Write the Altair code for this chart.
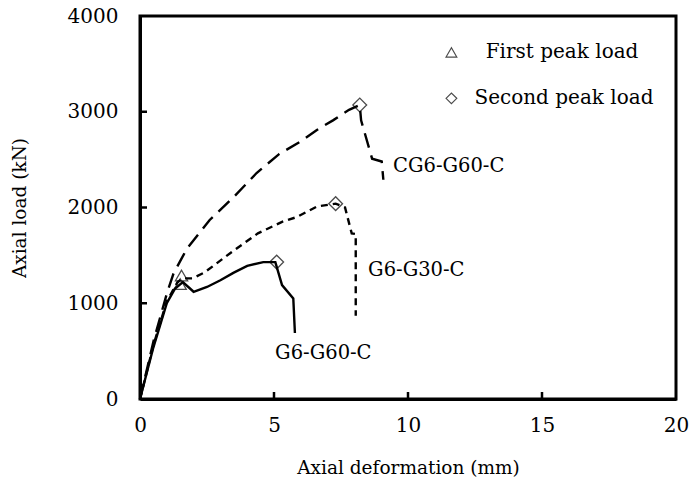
import altair as alt
import pandas as pd

# Load-deformation curves (deformation in mm, load in kN)
g60_x = [0, 0.5, 1.0, 1.3, 1.6, 2.0, 2.5, 3.0, 3.5, 4.0, 4.6, 5.05, 5.3, 5.72, 5.78]
g60_y = [0, 540, 1000, 1150, 1220, 1120, 1170, 1240, 1320, 1390, 1430, 1430, 1190, 1050, 690]

g30_x = [0, 0.5, 1.0, 1.4, 1.6, 1.95, 2.4, 3.4, 4.4, 5.3, 5.85, 6.6, 7.3, 7.65, 7.9, 8.05, 8.05]
g30_y = [0, 560, 1020, 1220, 1260, 1260, 1320, 1530, 1730, 1850, 1900, 2010, 2040, 2000, 1730, 1723, 870]

cg_x = [0, 0.5, 1.0, 1.25, 1.75, 2.6, 3.5, 4.35, 5.2, 6.0, 6.6, 7.2, 7.8, 8.2, 8.25, 8.66, 9.02, 9.08]
cg_y = [0, 600, 1100, 1310, 1570, 1870, 2110, 2360, 2560, 2690, 2810, 2910, 3020, 3070, 2910, 2510, 2480, 2290]

series_names = ["G6-G60-C", "G6-G30-C", "CG6-G60-C"]

# Peak points
first_peak_x = [1.5, 1.55]
first_peak_y = [1200, 1290]
second_peak_x = [5.1, 7.3, 8.2]
second_peak_y = [1430, 2040, 3070]

# Curve labels
label_text = ["G6-G60-C", "G6-G30-C", "CG6-G60-C"]
label_x = [5.04, 8.51, 9.44]
label_y = [480, 1347, 2433]

# Legend entries
legend_text = ["First peak load", "Second peak load"]
legend_sym_x = [11.62, 11.62]
legend_txt_x = [12.9, 12.48]
legend_y = [3620, 3140]

x_ticks = [0, 5, 10, 15, 20]
y_ticks = [0, 1000, 2000, 3000, 4000]

FONT = "DejaVu Serif"
W, H = 536, 383

xs = alt.Scale(domain=[0, 20], nice=False, zero=False)
ys = alt.Scale(domain=[0, 4000], nice=False, zero=False)

def curve(xv, yv, name, dash):
    df = pd.DataFrame({"x": xv, "y": yv, "s": name, "i": range(len(xv))})
    kw = {"strokeDash": dash} if dash else {}
    return alt.Chart(df).mark_line(color="black", strokeWidth=2.4, **kw).encode(
        x=alt.X("x:Q", scale=xs,
                axis=alt.Axis(values=x_ticks, format="d", title="Axial deformation (mm)")),
        y=alt.Y("y:Q", scale=ys,
                axis=alt.Axis(values=y_ticks, format="d", title="Axial load (kN)")),
        order="i:Q",
    )

lines = [
    curve(g60_x, g60_y, series_names[0], None),
    curve(g30_x, g30_y, series_names[1], [7, 5]),
    curve(cg_x, cg_y, series_names[2], [15, 8]),
]

fp = pd.DataFrame({"x": first_peak_x, "y": first_peak_y})
sp = pd.DataFrame({"x": second_peak_x, "y": second_peak_y})
tri = alt.Chart(fp).mark_point(shape="triangle-up", size=150, color="black",
                               filled=False, strokeWidth=1.3).encode(
    x=alt.X("x:Q", scale=xs), y=alt.Y("y:Q", scale=ys))
dia = alt.Chart(sp).mark_point(shape="diamond", size=190, color="black",
                               filled=False, strokeWidth=1.3).encode(
    x=alt.X("x:Q", scale=xs), y=alt.Y("y:Q", scale=ys))

lab = alt.Chart(pd.DataFrame({"t": label_text, "x": label_x, "y": label_y})).mark_text(
    align="left", baseline="middle", font=FONT, fontSize=19.5, color="black").encode(
    x=alt.X("x:Q", scale=xs), y=alt.Y("y:Q", scale=ys), text="t:N")

leg_sym = alt.Chart(pd.DataFrame({"x": legend_sym_x, "y": legend_y,
                                  "shape": ["triangle-up", "diamond"]})).mark_point(
    color="black", filled=False, strokeWidth=1.2, size=115).encode(
    x=alt.X("x:Q", scale=xs), y=alt.Y("y:Q", scale=ys),
    shape=alt.Shape("shape:N", scale=None))
leg_txt = alt.Chart(pd.DataFrame({"t": legend_text, "x": legend_txt_x, "y": legend_y})).mark_text(
    align="left", baseline="middle", font=FONT, fontSize=20, color="black").encode(
    x=alt.X("x:Q", scale=xs), y=alt.Y("y:Q", scale=ys), text="t:N")

# Inward tick marks on the bottom and left axes
xt = alt.Chart(pd.DataFrame({"x": x_ticks[1:-1]})).mark_rule(color="black", strokeWidth=2.5).encode(
    x=alt.X("x:Q", scale=xs), y=alt.value(H), y2=alt.value(H - 7))
yt = alt.Chart(pd.DataFrame({"y": y_ticks[1:-1]})).mark_rule(color="black", strokeWidth=2.5).encode(
    y=alt.Y("y:Q", scale=ys), x=alt.value(0), x2=alt.value(7))

chart = alt.layer(*lines, tri, dia, lab, leg_sym, leg_txt, xt, yt).properties(
    width=W, height=H,
    autosize=alt.AutoSizeParams(type="none"),
    padding={"left": 140, "top": 16, "right": 17, "bottom": 89},
).configure_view(
    stroke="black", strokeWidth=3
).configure_axis(
    domain=True, domainColor="black", domainWidth=3,
    ticks=False, grid=False, labelFlush=False,
    labelFont=FONT, labelFontSize=20, labelColor="black",
    titleFont=FONT, titleFontSize=18.5, titleColor="black", titleFontWeight="normal",
).configure_axisX(
    labelPadding=16, titlePadding=23,
).configure_axisY(
    labelPadding=22, titlePadding=38,
)

chart.save("out.html", embed_options={"renderer": "svg", "actions": False})
